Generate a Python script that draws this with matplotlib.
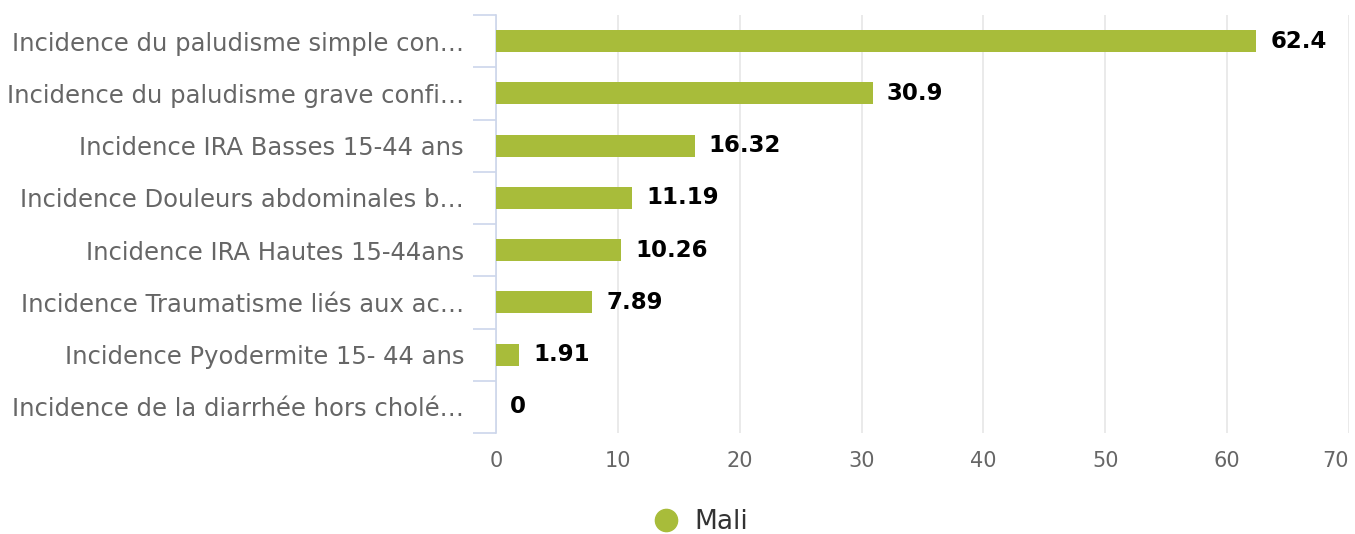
import matplotlib.pyplot as plt
from matplotlib.lines import Line2D

plt.rcParams['font.family'] = ['DejaVu Sans']

categories = [
    'Incidence du paludisme simple con…',
    'Incidence du paludisme grave confi…',
    'Incidence IRA Basses 15-44 ans',
    'Incidence Douleurs abdominales b…',
    'Incidence IRA Hautes 15-44ans',
    'Incidence Traumatisme liés aux ac…',
    'Incidence Pyodermite 15- 44 ans',
    'Incidence de la diarrhée hors cholé…',
]
values = [62.4, 30.9, 16.32, 11.19, 10.26, 7.89, 1.91, 0]
series_name = 'Mali'
xticks = [0, 10, 20, 30, 40, 50, 60, 70]

bar_color = '#a8bc3a'
axis_color = '#ccd6eb'
grid_color = '#e6e6e6'
text_color = '#666666'

fig = plt.figure(figsize=(13.55, 5.34), dpi=100)
ax = fig.add_axes([496 / 1355, 1 - 433 / 534, 853 / 1355, 418 / 534])

y = list(range(len(categories)))
ax.barh(y, values, height=0.42, color=bar_color, zorder=3)
ax.set_ylim(len(categories) - 0.5, -0.5)
ax.set_xlim(0, 70)

ax.set_xticks(xticks)
ax.set_xticklabels([str(t) for t in xticks])
ax.set_yticks(y)
ax.set_yticklabels(categories)
ax.set_yticks([i - 0.5 for i in range(len(categories) + 1)], minor=True)
ax.get_xticklabels()[-1].set_ha('right')

ax.grid(axis='x', color=grid_color, linewidth=1.2, zorder=0)
for s in ['top', 'right', 'bottom']:
    ax.spines[s].set_visible(False)
ax.spines['left'].set_color(axis_color)
ax.spines['left'].set_linewidth(1.2)

ax.tick_params(axis='x', length=0, pad=13, labelsize=15, labelcolor=text_color)
ax.tick_params(axis='y', which='major', length=0, pad=23, labelsize=17.5, labelcolor=text_color)
ax.tick_params(axis='y', which='minor', length=16.5, width=1.2, color=axis_color)

for i, v in enumerate(values):
    ax.annotate(f'{v:g}', (v, i), xytext=(10, 0), textcoords='offset points',
                ha='left', va='center', fontsize=16.5, fontweight='bold', color='black')

handle = Line2D([], [], marker='o', linestyle='none', markersize=16,
                markerfacecolor=bar_color, markeredgecolor=bar_color)
fig.legend([handle], [series_name], loc='center', bbox_to_anchor=(694 / 1355, 1 - 522 / 534),
           frameon=False, fontsize=19, handletextpad=0.1, labelcolor='#333333')

fig.savefig('out.png', dpi=100)
